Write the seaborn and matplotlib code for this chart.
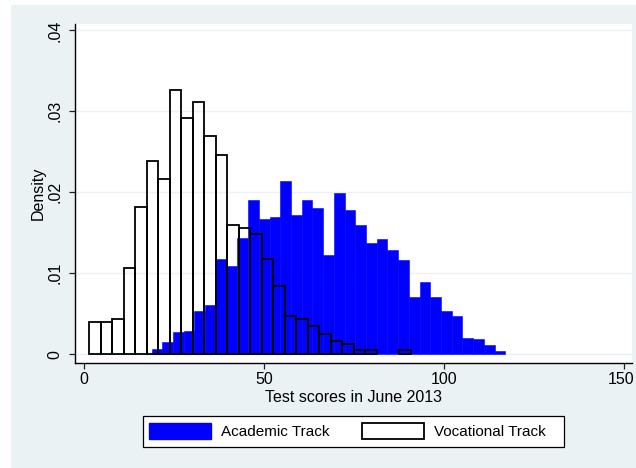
import numpy as np
import pandas as pd
import matplotlib
matplotlib.use("Agg")
import matplotlib.pyplot as plt
import matplotlib.transforms as mtransforms
import seaborn as sns
from matplotlib.patches import Rectangle, Patch

# ---- data (densities) ----
acad_start = 18.7
acad_width = 2.976
acad_density = [0.00065, 0.0015, 0.0027, 0.0029, 0.0053, 0.0061, 0.0118, 0.0109, 0.0143, 0.0191,
                0.0167, 0.0169, 0.0214, 0.0172, 0.0190, 0.0181, 0.0123, 0.0199, 0.0178, 0.0160,
                0.0137, 0.0142, 0.0129, 0.0116, 0.0071, 0.0089, 0.0071, 0.0053, 0.0047, 0.0020,
                0.0019, 0.0011, 0.00045]
voc_start = 1.4
voc_width = 3.19
voc_density = [0.00395, 0.00395, 0.0043, 0.0107, 0.0182, 0.0239, 0.0216, 0.0326, 0.0292, 0.0311,
               0.0270, 0.0246, 0.0160, 0.0156, 0.0149, 0.0118, 0.0084, 0.0047, 0.0043, 0.0035,
               0.0025, 0.0017, 0.0013, 0.0005, 0.0005, 0.0, 0.0, 0.0005]
series_labels = ["Academic Track", "Vocational Track"]
x_ticks = [0, 50, 100, 150]
x_tick_labels = ["0", "50", "100", "150"]
y_ticks = [0, 0.01, 0.02, 0.03, 0.04]
y_tick_labels = ["0", ".01", ".02", ".03", ".04"]
x_title = "Test scores in June 2013"
y_title = "Density"

plt.rcParams['font.family'] = ['Liberation Sans', 'DejaVu Sans']

BG = "#EAF2F3"
BLUE = "#0000FF"
W, H = 636, 468

def build(start, width, dens):
    n = len(dens)
    edges = [float(start + width * k) for k in range(n + 1)]
    mids = [float(start + width * (k + 0.5)) for k in range(n)]
    return pd.DataFrame({"score": mids, "density": dens}), edges

acad_df, acad_edges = build(acad_start, acad_width, acad_density)
voc_df, voc_edges = build(voc_start, voc_width, voc_density)

fig = plt.figure(figsize=(W / 100, H / 100), dpi=100, facecolor="white")
fig.patches.append(Rectangle((11 / W, 0), 1 - 11 / W, (H - 5) / H, transform=fig.transFigure,
                             facecolor=BG, edgecolor="none", zorder=-10))
ax = fig.add_axes([75 / W, (H - 363.3) / H, (632 - 75) / W, (363.3 - 24) / H])
ax.set_facecolor("white")

sns.histplot(data=acad_df, x="score", weights="density", bins=acad_edges, stat="count",
             color=BLUE, alpha=1, edgecolor=BLUE, linewidth=0.4, ax=ax)
n_acad = len(ax.patches)
sns.histplot(data=voc_df, x="score", weights="density", bins=voc_edges, stat="count",
             fill=False, color="black", linewidth=1.3, ax=ax)
for p in ax.patches[n_acad:]:
    if p.get_height() == 0:
        p.set_visible(False)

ax.set_xlim(-2.58, 152.1)
ax.set_ylim(-0.00111, 0.04078)
ax.set_xticks(x_ticks)
ax.set_xticklabels(x_tick_labels, fontsize=11.5)
ax.set_yticks(y_ticks)
ax.set_yticklabels(y_tick_labels, fontsize=11.5, rotation=90, va="center")
ax.tick_params(axis="both", length=4, width=0.9, color="#222222")
ax.tick_params(axis="y", pad=5)
ax.tick_params(axis="x", pad=2.5)
ax.set_xlabel(x_title, fontsize=11.5, labelpad=2)
ax.set_ylabel(y_title, fontsize=11.5, labelpad=1)

# nudge the last x tick label slightly left so it stays inside the image
last = ax.get_xticklabels()[-1]
last.set_transform(last.get_transform() +
                   mtransforms.ScaledTranslation(-3 / 100, 0, fig.dpi_scale_trans))

ax.set_axisbelow(True)
ax.yaxis.grid(True, color=BG, linewidth=1.0)
ax.xaxis.grid(False)
for s in ["top", "right"]:
    ax.spines[s].set_visible(False)
for s in ["left", "bottom"]:
    ax.spines[s].set_color("black")
    ax.spines[s].set_linewidth(1.0)

# legend box
fig.patches.append(Rectangle((142.7 / W, (H - 446.7) / H), (564.3 - 142.7) / W, 30.7 / H,
                             transform=fig.transFigure, facecolor="white", edgecolor="black",
                             linewidth=0.9, zorder=1))
handles = [Patch(facecolor=BLUE, edgecolor=BLUE),
           Patch(facecolor="white", edgecolor="black", linewidth=1.3)]
leg = fig.legend(handles, series_labels, ncol=2, loc="center left",
                 bbox_to_anchor=(149.3 / W, (H - 431.3) / H),
                 fontsize=11, frameon=False, borderpad=0, handlelength=4.05, handleheight=1.15,
                 handletextpad=0.65, columnspacing=2.15, borderaxespad=0)
leg.set_zorder(2)

fig.savefig("out.png", dpi=100, facecolor=fig.get_facecolor())
